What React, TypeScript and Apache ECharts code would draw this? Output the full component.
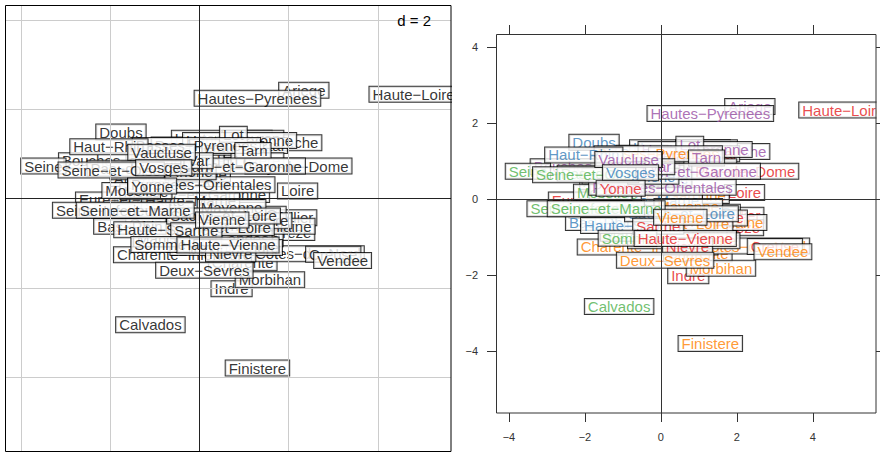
import React, { useEffect, useRef } from "react";
import * as echarts from "echarts";

// Guerry departments, in data order (drawing order)
const departments = [
  "Ain", "Aisne", "Allier", "Basses-Alpes", "Hautes-Alpes", "Ardeche", "Ardennes", "Ariege", "Aube", "Aude",
  "Aveyron", "Bouches-du-Rhone", "Calvados", "Cantal", "Charente", "Charente-Inferieure", "Cher", "Correze", "Cote-d'Or", "Cotes-du-Nord",
  "Creuse", "Dordogne", "Doubs", "Drome", "Eure", "Eure-et-Loir", "Finistere", "Gard", "Haute-Garonne", "Gers",
  "Gironde", "Herault", "Ille-et-Vilaine", "Indre", "Indre-et-Loire", "Isere", "Jura", "Landes", "Loir-et-Cher", "Loire",
  "Haute-Loire", "Loire-Inferieure", "Loiret", "Lot", "Lot-et-Garonne", "Lozere", "Maine-et-Loire", "Manche", "Marne", "Haute-Marne",
  "Mayenne", "Meurthe", "Meuse", "Morbihan", "Moselle", "Nievre", "Nord", "Oise", "Orne", "Pas-de-Calais",
  "Puy-de-Dome", "Basses-Pyrenees", "Hautes-Pyrenees", "Pyrenees-Orientales", "Bas-Rhin", "Haut-Rhin", "Rhone", "Haute-Saone", "Saone-et-Loire", "Sarthe",
  "Seine", "Seine-Inferieure", "Seine-et-Marne", "Seine-et-Oise", "Deux-Sevres", "Somme", "Tarn", "Tarn-et-Garonne", "Var", "Vaucluse",
  "Vendee", "Vienne", "Haute-Vienne", "Vosges", "Yonne",
];

const regions = [
  "E", "N", "C", "E", "E", "S", "N", "S", "E", "S",
  "S", "S", "N", "C", "W", "W", "C", "C", "E", "W",
  "C", "W", "E", "E", "N", "C", "W", "S", "S", "S",
  "W", "S", "W", "C", "C", "E", "E", "W", "C", "C",
  "C", "W", "C", "S", "W", "S", "W", "N", "N", "E",
  "W", "E", "N", "W", "N", "C", "N", "N", "N", "N",
  "C", "W", "S", "S", "E", "E", "E", "E", "E", "C",
  "N", "N", "N", "N", "W", "N", "S", "S", "S", "S",
  "W", "W", "C", "E", "C",
];

const xs = [
  0.3, -1.4, 2.18, -0.5, 0.5, 2.04, -1.2, 2.34, 0.2, 0.6,
  1.2, -1.55, -1.1, 1.41, 0.97, -0.35, 0.0, 1.91, 1.1, 2.43,
  3.0, 0.9, -1.76, -0.5, -1.4, -1.73, 1.3, 0.1, 0.9, 1.0,
  1.2, 0.4, 1.46, 0.72, 0.9, -0.8, -1.6, 1.0, 0.2, 2.2,
  4.8, 0.6, -0.4, 0.76, 0.27, 1.3, 0.43, -0.8, -0.5, -0.2,
  0.72, 0.0, -1.2, 1.58, -1.53, 0.7, -1.9, -1.0, -1.2, -1.3,
  2.22, -0.07, 1.3, 0.04, -1.56, -2.03, -0.2, -0.81, 0.54, -0.07,
  -3.5, -1.98, -1.44, -1.98, 0.11, -0.88, 1.2, 0.98, -0.02, -0.85,
  3.21, 0.51, 0.64, -0.8, -1.06,
];

const ys = [
  0.3, 0.0, -0.43, 0.95, 1.35, 1.25, 0.45, 2.43, -0.3, 1.05,
  1.35, 0.85, -2.83, 1.19, -1.44, -1.26, -0.9, -0.76, -0.35, -1.24,
  -1.25, -1.0, 1.49, 1.2, -0.1, -0.03, -3.8, 0.85, 1.3, 1.1,
  -0.9, 1.15, -0.62, -2.02, -0.5, 0.4, 0.6, -0.9, -0.6, 0.17,
  2.34, -1.1, -0.45, 1.44, 0.09, 0.85, -0.65, -0.9, -0.2, -0.05,
  -0.2, 0.55, 0.15, -1.82, 0.18, -1.24, -0.3, -0.4, -0.55, 0.68,
  0.73, 1.19, 2.25, 0.31, -0.62, 1.16, 0.6, -0.7, -0.39, -0.72,
  0.73, -0.26, -0.26, 0.64, -1.61, -1.03, 1.08, 0.73, 0.85, 1.04,
  -1.39, -0.48, -1.04, 0.69, 0.28,
];

const regionColors: Record<string, string> = {
  C: "#E41A1C",
  E: "#377EB8",
  N: "#4DAF4A",
  S: "#984EA3",
  W: "#FF7F00",
};

const leftXRange = [-4.36, 5.64];
const leftYRange = [-5.66, 4.34];
const rightXRange = [-4.34, 5.66];
const rightYRange = [-5.63, 4.34];
const gridValues = [-4, -2, 2, 4];
const tickValues = [-4, -2, 0, 2, 4];
const scaleText = "d = 2";

const FONT = "'Liberation Sans', Arial, Helvetica, sans-serif";

const minus = (s: string) => s.replace(/-/g, "\u2212");

export default function App() {
  const ref = useRef<HTMLDivElement>(null);

  useEffect(() => {
    if (!ref.current) return;
    const chart = echarts.init(ref.current, undefined, { renderer: "svg" });

    const labelBase = {
      show: true,
      position: "inside",
      align: "center",
      verticalAlign: "middle",
      fontFamily: FONT,
      fontSize: 15,
      lineHeight: 12,
      backgroundColor: "#fff",
      borderColor: "#000",
      borderWidth: 1,
      padding: [2, 3, 1, 3],
      formatter: (p: any) => minus(p.name),
    };

    const leftData = departments.map((d, i) => ({ name: d, value: [xs[i], ys[i]] }));
    const rightData = departments.map((d, i) => ({
      name: d,
      value: [xs[i], ys[i]],
      label: { color: regionColors[regions[i]] },
    }));

    const hiddenAxis = { type: "value", show: false, splitLine: { show: false } };

    const tickStyle = { lineStyle: { color: "#333", width: 1 } };
    const tickLabel = {
      show: true,
      customValues: tickValues,
      formatter: (v: number) => minus(String(v)),
      fontFamily: FONT,
      fontSize: 11,
      color: "#333",
      margin: 18,
    };

    const rightAxis = (pos: string, isX: boolean, withLabels: boolean) => ({
      type: "value",
      gridIndex: 1,
      position: pos,
      min: isX ? rightXRange[0] : rightYRange[0],
      max: isX ? rightXRange[1] : rightYRange[1],
      axisLine: { show: false, onZero: false },
      splitLine: { show: false },
      axisTick: { show: true, inside: false, length: 9, customValues: tickValues, ...tickStyle },
      axisLabel: withLabels ? tickLabel : { show: false },
    });

    const option: any = {
      animation: false,
      grid: [
        { left: 5, top: 5, width: 446, height: 446 },
        { left: 496, top: 34, width: 380, height: 379 },
      ],
      xAxis: [
        { ...hiddenAxis, gridIndex: 0, min: leftXRange[0], max: leftXRange[1] },
        rightAxis("bottom", true, true),
        rightAxis("top", true, false),
      ],
      yAxis: [
        { ...hiddenAxis, gridIndex: 0, min: leftYRange[0], max: leftYRange[1] },
        rightAxis("left", false, true),
        rightAxis("right", false, false),
      ],
      series: [
        {
          type: "line",
          xAxisIndex: 0,
          yAxisIndex: 0,
          data: [],
          z: 1,
          silent: true,
          markLine: {
            silent: true,
            symbol: ["none", "none"],
            label: { show: false },
            emphasis: { disabled: true },
            lineStyle: { color: "#cccccc", width: 1, type: "solid" },
            data: [
              ...gridValues.map((v) => ({ xAxis: v })),
              ...gridValues.map((v) => ({ yAxis: v })),
            ],
          },
        },
        {
          type: "line",
          xAxisIndex: 0,
          yAxisIndex: 0,
          data: [],
          z: 1,
          silent: true,
          markLine: {
            silent: true,
            symbol: ["none", "none"],
            label: { show: false },
            emphasis: { disabled: true },
            lineStyle: { color: "#222", width: 1, type: "solid" },
            data: [{ xAxis: 0 }, { yAxis: 0 }],
          },
        },
        {
          type: "scatter",
          xAxisIndex: 0,
          yAxisIndex: 0,
          z: 3,
          silent: true,
          symbolSize: 0.1,
          itemStyle: { color: "rgba(0,0,0,0)" },
          label: { ...labelBase, color: "#000" },
          emphasis: { disabled: true },
          data: leftData,
        },
        {
          type: "line",
          xAxisIndex: 1,
          yAxisIndex: 1,
          data: [],
          z: 1,
          silent: true,
          markLine: {
            silent: true,
            symbol: ["none", "none"],
            label: { show: false },
            emphasis: { disabled: true },
            lineStyle: { color: "#333", width: 1, type: "solid" },
            data: [{ xAxis: 0 }, { yAxis: 0 }],
          },
        },
        {
          type: "scatter",
          xAxisIndex: 1,
          yAxisIndex: 1,
          z: 3,
          silent: true,
          symbolSize: 0.1,
          itemStyle: { color: "rgba(0,0,0,0)" },
          label: { ...labelBase },
          emphasis: { disabled: true },
          data: rightData,
        },
      ],
      graphic: [
        {
          type: "rect",
          z: 5,
          shape: { x: 390, y: 12, width: 44, height: 16 },
          style: { fill: "#fff" },
          silent: true,
        },
        {
          type: "text",
          z: 6,
          x: 431,
          y: 20,
          style: {
            text: scaleText,
            fill: "#000",
            font: `15px ${FONT}`,
            align: "right",
            verticalAlign: "middle",
          },
          silent: true,
        },
        {
          type: "rect",
          z: 50,
          shape: { x: 452, y: 80, width: 22, height: 30 },
          style: { fill: "#fff" },
          silent: true,
        },
        {
          type: "rect",
          z: 50,
          shape: { x: 876.5, y: 96, width: 10, height: 25 },
          style: { fill: "#fff" },
          silent: true,
        },
        {
          type: "rect",
          z: 60,
          shape: { x: 5.5, y: 5.5, width: 445.5, height: 446 },
          style: { fill: "none", stroke: "#000", lineWidth: 1 },
          silent: true,
        },
        {
          type: "rect",
          z: 60,
          shape: { x: 496.5, y: 34.5, width: 379.5, height: 378.5 },
          style: { fill: "none", stroke: "#333", lineWidth: 1 },
          silent: true,
        },
      ],
    };

    chart.setOption(option);
    return () => chart.dispose();
  }, []);

  return (
    <div
      ref={ref}
      style={{ position: "fixed", left: 0, top: 0, width: 880, height: 452, background: "#fff" }}
    />
  );
}
